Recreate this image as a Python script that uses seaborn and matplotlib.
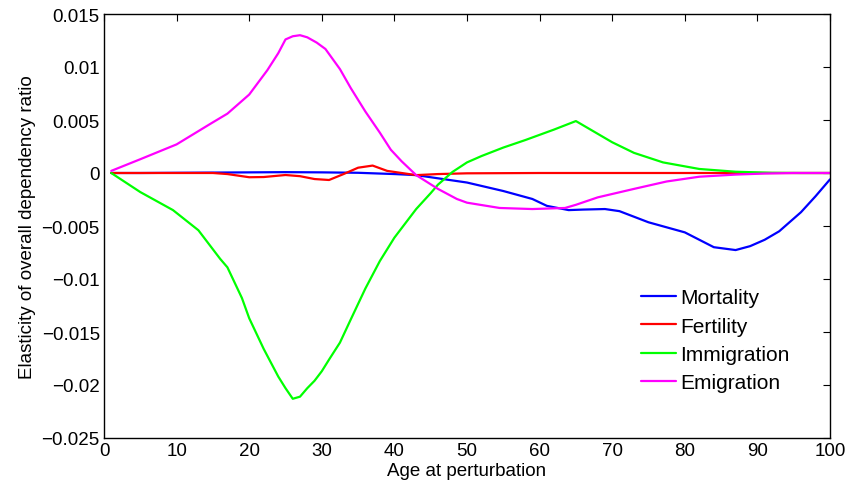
import numpy as np
import pandas as pd
import matplotlib
matplotlib.use("Agg")
import matplotlib.pyplot as plt
import seaborn as sns

ages_mort = [1, 5, 10, 15, 20, 25, 30, 35, 40, 43, 45, 50, 55, 59, 61, 64, 66, 69, 71, 75, 80, 84, 87, 89, 91, 93, 96, 98, 100]
mortality = [0, 0, 0.00002, 0.00004, 0.00006, 0.00008, 0.00006, 0.00002, -0.0001, -0.0002, -0.0004, -0.0009, -0.0017,
             -0.00245, -0.0031, -0.0035, -0.00345, -0.0034, -0.0036, -0.00465, -0.0056, -0.007, -0.00727, -0.0069,
             -0.0063, -0.0055, -0.0037, -0.0022, -0.0006]

ages_fert = [1, 5, 10, 15, 17, 20, 22, 25, 27, 29, 31, 33, 35, 37, 39, 41, 43, 46, 50, 60, 70, 80, 90, 100]
fertility = [0, 0, 0, 0, -0.0001, -0.0004, -0.00038, -0.00019, -0.0003, -0.00057, -0.00066, -0.0001, 0.0005, 0.0007,
             0.0002, 0, -0.0002, -0.0001, -0.00003, 0, 0, 0, 0, 0]

ages_imm = [1, 5, 9.5, 13, 16, 17, 19, 20, 22, 24, 25, 26, 27, 28, 29, 30, 31, 32.5, 34, 36, 38, 40, 42, 43, 45, 46,
            48, 50, 52, 55, 58, 62, 65, 68, 70, 73, 77, 82, 87, 92, 96, 100]
immigration = [0, -0.0018, -0.0035, -0.0054, -0.0081, -0.0089, -0.0118, -0.0137, -0.0166, -0.0192, -0.0203, -0.0213,
               -0.0211, -0.0203, -0.0196, -0.0187, -0.0176, -0.016, -0.0138, -0.0109, -0.0083, -0.0061, -0.0043,
               -0.0034, -0.0019, -0.0011, 0.0001, 0.001, 0.0016, 0.0024, 0.0031, 0.0041, 0.0049, 0.0037, 0.0029,
               0.0019, 0.001, 0.00038, 0.00012, 0.00002, 0, 0]

ages_emi = [1, 5, 10, 14.8, 17, 20, 22.5, 24, 25, 26, 27, 28, 29.3, 30.5, 32.5, 34, 36, 38, 39.5, 41, 43, 46, 48.6,
            50, 54.5, 59, 63.5, 65, 68, 73, 77.5, 82, 87, 91, 95, 100]
emigration = [0.0002, 0.0013, 0.0027, 0.0047, 0.0056, 0.0074, 0.0097, 0.0113, 0.0126, 0.0129, 0.0130, 0.0128, 0.0123,
              0.0117, 0.0098, 0.0080, 0.0058, 0.0038, 0.0022, 0.0011, -0.0002, -0.0015, -0.00245, -0.0028, -0.0033,
              -0.0034, -0.0033, -0.0030, -0.0023, -0.0015, -0.0008, -0.00035, -0.00015, -0.00005, 0, 0]

x_ticks = [0, 10, 20, 30, 40, 50, 60, 70, 80, 90, 100]
y_ticks = [0.015, 0.01, 0.005, 0, -0.005, -0.01, -0.015, -0.02, -0.025]
y_tick_labels = ["0.015", "0.01", "0.005", "0", "\u22120.005", "\u22120.01", "\u22120.015", "\u22120.02", "\u22120.025"]

series = [
    ("Mortality", ages_mort, mortality, "#0000ff"),
    ("Fertility", ages_fert, fertility, "#ff0000"),
    ("Immigration", ages_imm, immigration, "#00ff00"),
    ("Emigration", ages_emi, emigration, "#ff00ff"),
]

sns.set_style("white")
plt.rcParams["font.family"] = ["Liberation Sans", "DejaVu Sans"]
plt.rcParams["text.color"] = "black"
plt.rcParams["axes.labelcolor"] = "black"

fig = plt.figure(figsize=(8.5, 4.89), dpi=100)
ax = fig.add_axes([104 / 850, 50 / 489, 726 / 850, 424 / 489])

for name, xs, ys, col in series:
    df = pd.DataFrame({"age": xs, "val": ys})
    sns.lineplot(data=df, x="age", y="val", ax=ax, color=col, linewidth=1.6, label=name, sort=False)

ax.set_xlim(0, 100)
ax.set_ylim(-0.025, 0.015)
ax.set_xticks(x_ticks)
ax.set_xticklabels([str(t) for t in x_ticks])
ax.set_yticks(y_ticks)
ax.set_yticklabels(y_tick_labels)
ax.tick_params(direction="in", length=5, width=0.8, top=True, right=True, labelsize=13.5, colors="black", pad=3)
for s in ax.spines.values():
    s.set_visible(True)
    s.set_color("black")
    s.set_linewidth(1.0)

ax.set_xlabel("Age at perturbation", fontsize=13.5, labelpad=2, color="black")
ax.set_ylabel("Elasticity of overall dependency ratio", fontsize=13.5, labelpad=4, color="black")

leg = ax.legend(loc="upper left", bbox_to_anchor=(0.7397, 0.353), frameon=False, fontsize=15,
                handlelength=1.7, handletextpad=0.2, labelspacing=0.45, borderaxespad=0, borderpad=0,
                labelcolor="black")

fig.savefig("out.png", dpi=100)
